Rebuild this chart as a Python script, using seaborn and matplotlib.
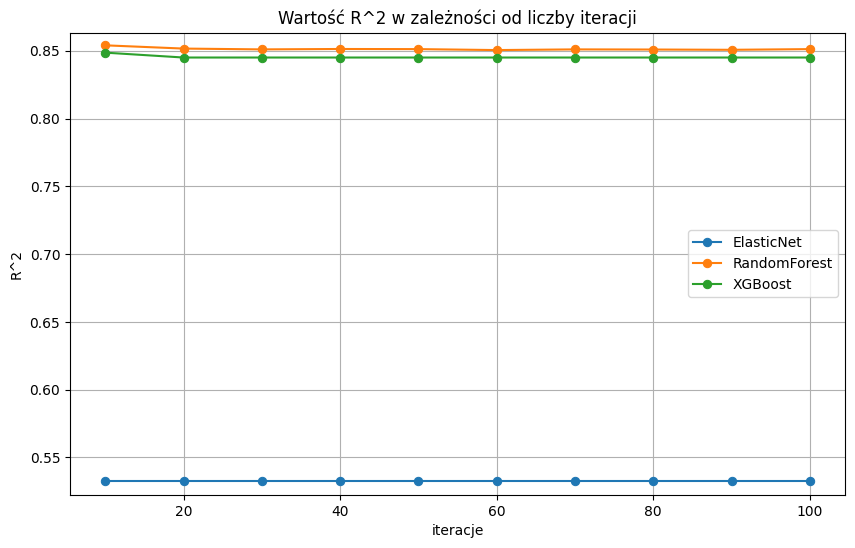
import pandas as pd
import seaborn as sns
import matplotlib.pyplot as plt

# Data
iteracje = [10, 20, 30, 40, 50, 60, 70, 80, 90, 100]
elasticnet = [0.5324] * 10
randomforest = [0.8541, 0.8517, 0.8511, 0.8514, 0.8513, 0.8506, 0.8511, 0.8510, 0.8508, 0.8513]
xgboost = [0.8487, 0.8451, 0.8451, 0.8451, 0.8451, 0.8451, 0.8451, 0.8451, 0.8451, 0.8451]

models = {'ElasticNet': elasticnet, 'RandomForest': randomforest, 'XGBoost': xgboost}
colors = ['tab:blue', 'tab:orange', 'tab:green']

plt.figure(figsize=(10, 6))
for (name, values), c in zip(models.items(), colors):
    df = pd.DataFrame({'iteracje': iteracje, 'R2': values})
    sns.lineplot(x='iteracje', y='R2', data=df, marker='o', color=c,
                 markeredgecolor=c, markersize=6, label=name)

plt.title('Wartość R^2 w zależności od liczby iteracji')
plt.xlabel('iteracje')
plt.ylabel('R^2')
plt.ylim(0.5225, 0.8634)
plt.legend(loc='center right')
plt.grid(True)
plt.savefig('out.png', bbox_inches='tight')
